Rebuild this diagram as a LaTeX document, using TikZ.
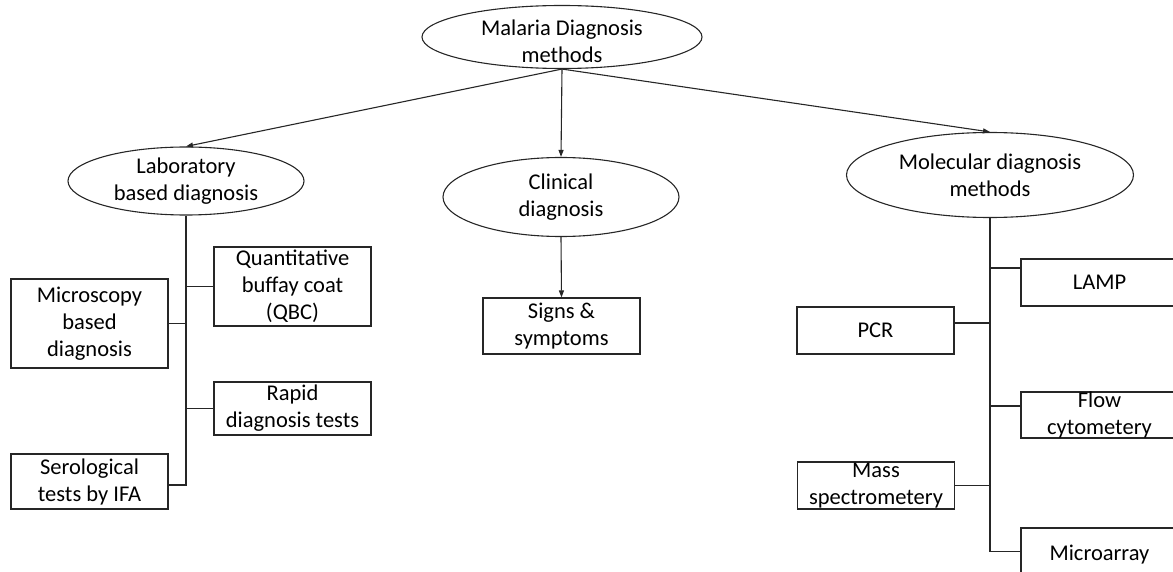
\documentclass[tikz,border=0pt]{standalone}
\usepackage{fontspec}
\setmainfont{Carlito}
\usepackage{tikz}
\usetikzlibrary{arrows.meta, shapes.geometric, calc}
\newcommand{\nodefont}{\fontsize{22.5pt}{27pt}\selectfont}
\tikzset{
  tag/.style={label={[font=\nodefont, align=center, inner sep=0pt]center:#1}},
  tagdown/.style 2 args={label={[font=\nodefont, align=center, inner sep=0pt, yshift=-#1]center:#2}},
  ell/.style={draw, ellipse, inner sep=0pt},
  box/.style={draw, rectangle, inner sep=0pt, minimum width=157pt},
  arr/.style={-{Triangle[length=7pt, width=5pt]}},
}

\begin{document}
\begin{tikzpicture}[x=1pt, y=-1pt, line width=1.1pt, draw=black!85]
\useasboundingbox (0,0) rectangle (1173,572);
% Top: root and the three families
\node[ell, minimum width=280pt, minimum height=63pt, tagdown={4pt}{Malaria Diagnosis\\methods}] (root) at (562,37) {};
\node[ell, minimum width=236pt, minimum height=68pt, tag={Laboratory\\based diagnosis}] (lab) at (186,181) {};
\node[ell, minimum width=236pt, minimum height=79pt, tag={Clinical\\diagnosis}] (clin) at (561,197) {};
\node[ell, minimum width=287pt, minimum height=85pt, tag={Molecular diagnosis\\methods}] (mol) at (990,175) {};
\draw[arr] (root.south) -- (lab.north);
\draw[arr] (root.south) -- (clin.north);
\draw[arr] (root.south) -- (mol.north);
% Middle: clinical
\node[box, minimum height=56pt, tag={Signs \&\\symptoms}] (signs) at (561.5,326) {};
\draw[arr] (clin.south) -- (signs.north);
% Left: laboratory based
\node[box, minimum height=79pt, tag={Quantitative\\buffay coat\\(QBC)}] (qbc) at (292.5,286.5) {};
\node[box, minimum height=89pt, tag={Microscopy\\based\\diagnosis}] (micro) at (89.5,323.5) {};
\node[box, minimum height=53pt, tag={Rapid\\diagnosis tests}] (rapid) at (292.5,408.5) {};
\node[box, minimum height=55pt, tag={Serological\\tests by IFA}] (sero) at (89.5,481.5) {};
\draw (lab.south) |- ([yshift=-3.5pt]sero.east);
\draw (qbc.west) -- (qbc.west -| lab.south);
\draw (micro.east) -- (micro.east -| lab.south);
\draw (rapid.west) -- (rapid.west -| lab.south);
% Right: molecular
\node[box, minimum height=47pt, tag={LAMP}] (lamp) at (1099.5,282.5) {};
\node[box, minimum height=47pt, tag={PCR}] (pcr) at (875.5,330.5) {};
\node[box, minimum height=46pt, tag={Flow\\cytometery}] (flow) at (1099.5,415) {};
\node[box, minimum height=47pt, tag={Mass\\spectrometery}] (mass) at (876,485.5) {};
\node[box, minimum height=47pt, tagdown={3pt}{Microarray}] (array) at (1099.5,551.5) {};
\coordinate (lampJ) at ([yshift=14.5pt]lamp.west);
\coordinate (pcrJ) at ([yshift=7.5pt]pcr.east);
\coordinate (flowJ) at ([yshift=9pt]flow.west);
\draw (mol.south) |- (array.west);
\draw (lampJ) -- (lampJ -| mol.south);
\draw (pcrJ) -- (pcrJ -| mol.south);
\draw (flowJ) -- (flowJ -| mol.south);
\draw (mass.east) -- (mass.east -| mol.south);
\end{tikzpicture}
\end{document}
